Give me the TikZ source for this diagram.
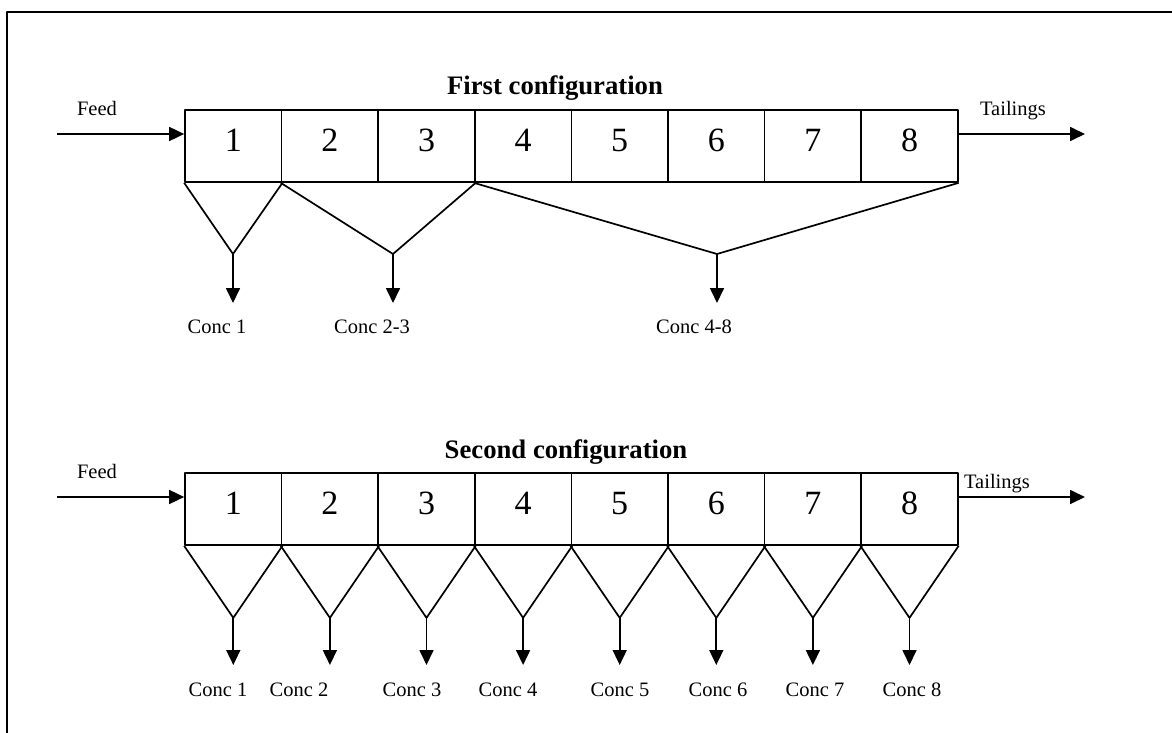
\documentclass[tikz,border=0pt]{standalone}
\usepackage{fontspec}
\setmainfont{Liberation Serif}
\usetikzlibrary{arrows.meta,positioning}
\begin{document}
\begin{tikzpicture}[x=1pt, y=-1pt, >={Triangle[length=15pt,width=14pt]}, line width=1.7pt, line join=round,
		cell/.style={draw, minimum width=96.6pt, minimum height=72pt, inner sep=0pt, text height=23pt, text depth=12pt, font=\fontsize{34}{40}\selectfont},
		lbl/.style={anchor=base, inner sep=0pt, font=\fontsize{20.5}{24}\selectfont},
		ttl/.style={anchor=base, inner sep=0pt, font=\bfseries\fontsize{26.7}{32}\selectfont}]
		\useasboundingbox (0,0) rectangle (1172,733);
		% Khung ngoài
		\coordinate (fbl) at (7,733);
		\coordinate (ftl) at (7,12);
		\coordinate (ftr) at (1172,12);
		\draw[line width=1.8pt] (fbl) -- (ftl) -- (ftr);
		% Cấu hình thứ nhất
		\node[ttl] (t1) at (555,95) {First configuration};
		\foreach \i in {1,...,8}
		\node[cell] (a\i) at ({185+96.6*(\i-0.5)},146) {\i};
		\coordinate (feedA) at (57,134);
		\coordinate (tailA) at (1085,134);
		\draw[->] (feedA) -- (feedA -| a1.west);
		\draw[->] (tailA -| a8.east) -- (tailA);
		\node[lbl] (fa) at (97,116) {Feed};
		\node[lbl] (ta) at (1013,116) {Tailings};
		% Phễu gom tinh quặng
		\coordinate (v1) at (233,254);
		\coordinate (v23) at (393,254);
		\coordinate (v48) at (717,254);
		\draw (a1.south west) -- (v1) -- (a1.south east);
		\draw (a2.south west) -- (v23) -- (a3.south east);
		\draw (a4.south west) -- (v48) -- (a8.south east);
		\node[lbl] (c1) at (217,333) {Conc 1};
		\node[lbl] (c23) at (372,333) {Conc 2-3};
		\node[lbl] (c48) at (694,333) {Conc 4-8};
		\foreach \v/\c in {v1/c1, v23/c23, v48/c48}
		\draw[->, shorten >=30pt] (\v) -- (\v |- \c.base);
		% Cấu hình thứ hai
		\node[ttl] (t2) at (566,458) {Second configuration};
		\foreach \i in {1,...,8}
		\node[cell] (b\i) at ({185+96.6*(\i-0.5)},509) {\i};
		\coordinate (feedB) at (57,497);
		\coordinate (tailB) at (1085,497);
		\draw[->] (feedB) -- (feedB -| b1.west);
		\draw[->] (tailB -| b8.east) -- (tailB);
		\node[lbl] (fb) at (97,478) {Feed};
		\node[lbl] (tb) at (997,488) {Tailings};
		\foreach \i/\x in {1/218, 2/299, 3/412, 4/508, 5/620, 6/718, 7/815, 8/912} {
			\coordinate (w\i) at ([yshift=-72pt]b\i.south);
			\draw (b\i.south west) -- (w\i) -- (b\i.south east);
			\node[lbl] (cb\i) at (\x,696) {Conc \i};
			\draw[->, shorten >=31pt] (w\i) -- (w\i |- cb\i.base);
		}
	\end{tikzpicture}
\end{document}
